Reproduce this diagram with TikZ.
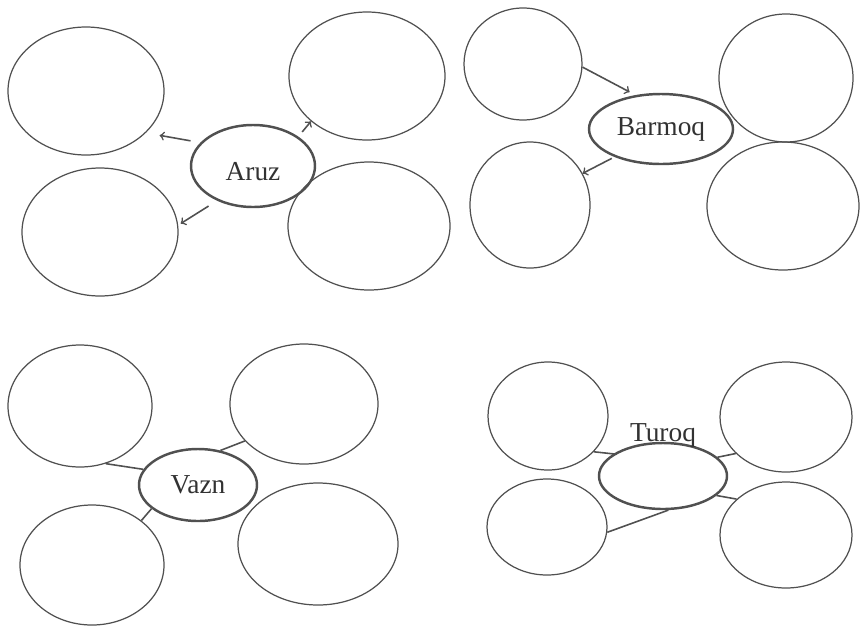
\documentclass[tikz,border=0pt]{standalone}
\usepackage{fontspec}
\setmainfont{Liberation Serif}
\usetikzlibrary{shapes.geometric}
\definecolor{inkgray}{RGB}{80,80,80}
\definecolor{textgray}{RGB}{50,50,50}
\begin{document}
\begin{tikzpicture}[x=0.02cm, y=-0.02cm,
        oval/.style 2 args={ellipse, draw=inkgray, line width=0.7pt, inner sep=0pt, minimum width=#1*0.02cm, minimum height=#2*0.02cm},
        hub/.style 2 args={oval={#1}{#2}, line width=1.4pt, text=textgray, font=\fontsize{15.6}{18}\selectfont},
        link/.style={draw=inkgray, line width=0.9pt}]
        \useasboundingbox (0, 0) rectangle (861, 626);
        \node[oval={156}{128}] (a1) at (86, 91) {};
        \node[oval={156}{128}] (a2) at (367, 76) {};
        \node[oval={156}{128}] (a3) at (100, 232) {};
        \node[oval={162}{128}] (a4) at (369, 226) {};
        \node[hub={124}{82}, text height=17pt] (aruz) at (253, 166) {Aruz};
        \node[oval={118}{112}] (b1) at (523, 64) {};
        \node[oval={134}{128}] (b2) at (786, 78) {};
        \node[oval={120}{126}] (b3) at (530, 205) {};
        \node[oval={152}{128}] (b4) at (783, 206) {};
        \node[hub={144}{70}] (barmoq) at (661, 129) {Barmoq};
        \node[oval={144}{122}] (v1) at (80, 406) {};
        \node[oval={148}{120}] (v2) at (304, 404) {};
        \node[oval={144}{120}] (v3) at (92, 565) {};
        \node[oval={160}{122}] (v4) at (318, 544) {};
        \node[hub={118}{72}] (vazn) at (198, 485) {Vazn};
        \node[oval={120}{108}] (t1) at (548, 416) {};
        \node[oval={132}{110}] (t2) at (786, 417) {};
        \node[oval={120}{96}] (t3) at (547, 527) {};
        \node[oval={132}{106}] (t4) at (786, 535) {};
        \node[hub={128}{66}] (turoq) at (663, 476) {};
        \node[text=textgray, font=\fontsize{15.6}{18}\selectfont] (turoqtext) at (663, 435) {Turoq};
        \draw[link, ->, shorten <=0.2cm, shorten >=0.28cm] (aruz.156) -- (a1.-35);
        \draw[link, ->, shorten <=0.2cm, shorten >=0.06cm] (aruz.224) -- (a3.5);
        \draw[link, ->, shorten <=0.12cm] (aruz.33) -- (a2.219);
        \draw[link, ->, shorten >=0.13cm] (b1.-3) -- (barmoq.127);
        \draw[link, ->, shorten <=0.06cm] (barmoq.211) -- (b3.31);
        \draw[link] (v1.-66) -- (vazn.164);
        \draw[link] (v3.42) -- (vazn.207);
        \draw[link] (vazn.57) -- (v2.212);
        \draw[link, shorten >=-0.07cm] (t1.-38) -- (turoq.156);
        \draw[link] (t3.-5) -- (turoq.-81);
        \draw[link] (turoq.19) -- (t2.216);
        \draw[link] (turoq.-20) -- (t4.144);
\end{tikzpicture}
\end{document}
